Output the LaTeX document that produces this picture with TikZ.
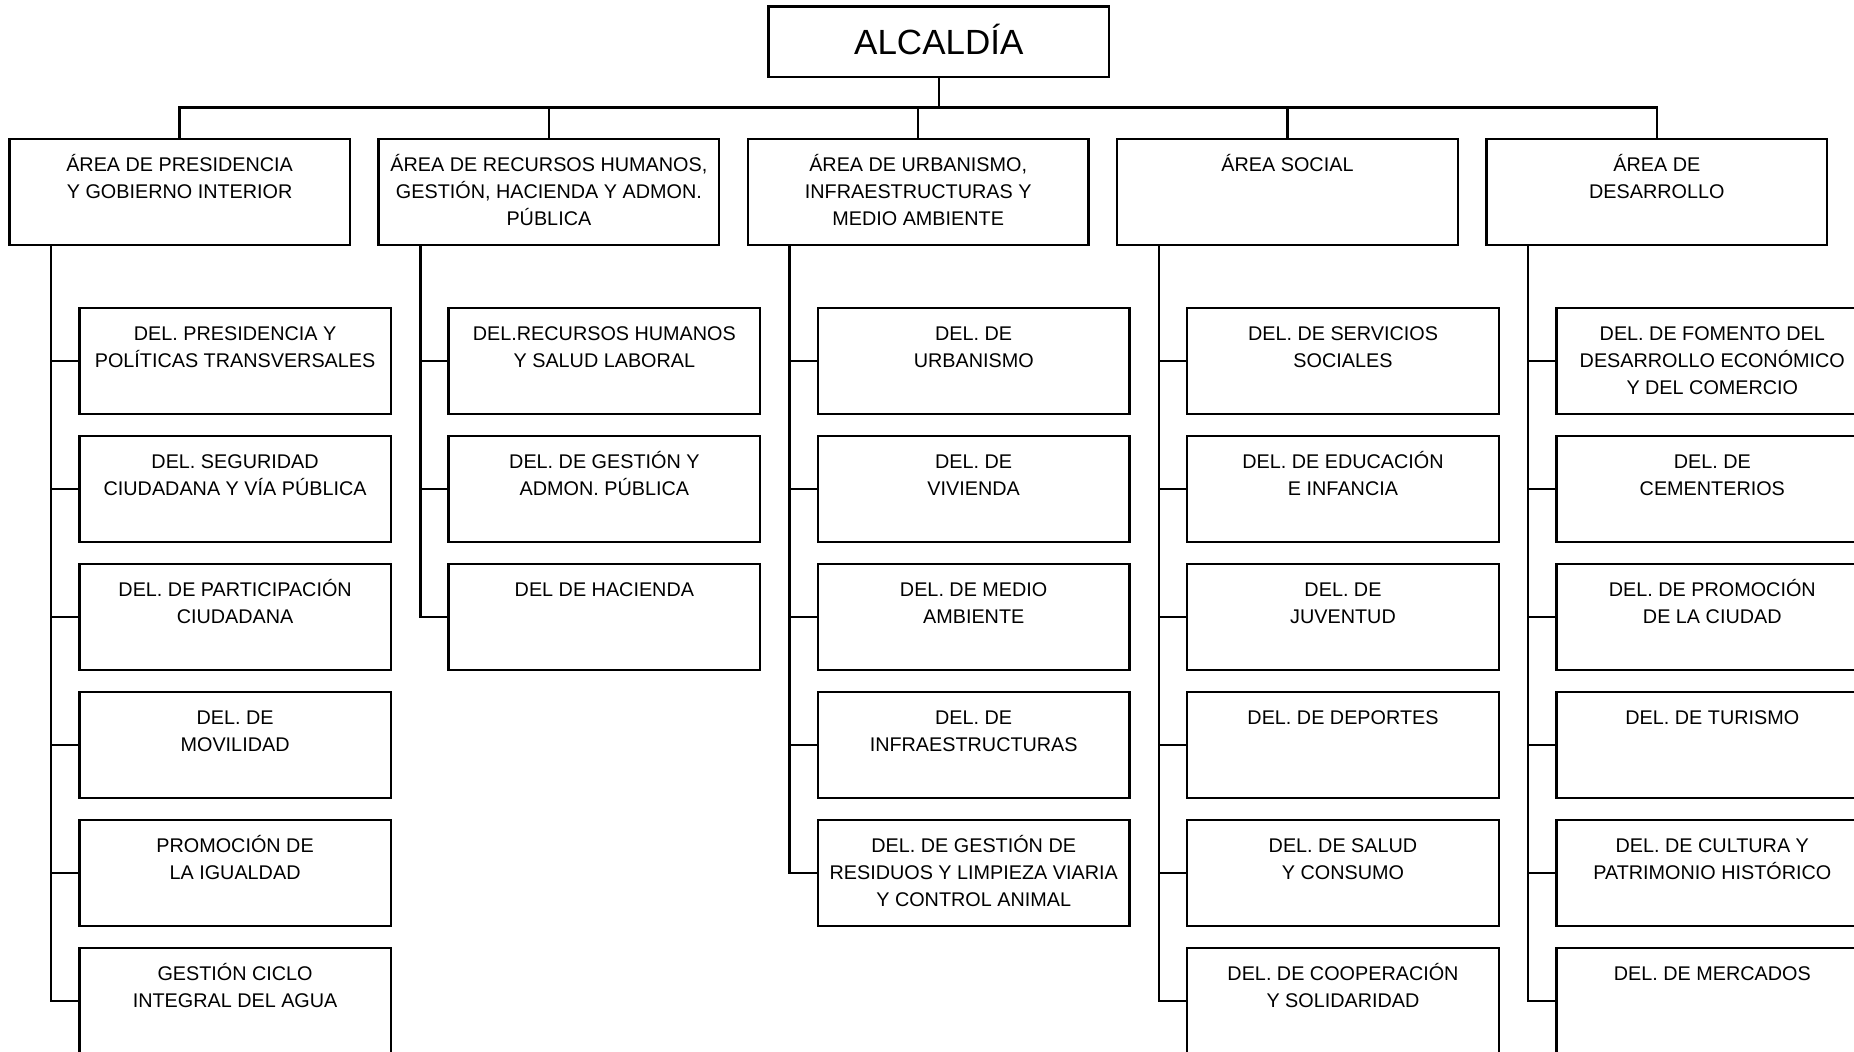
\documentclass[tikz,border=0pt]{standalone}
\usepackage{fontspec}
\setmainfont{Liberation Sans}
\usetikzlibrary{positioning}

\newcommand{\deltext}[1]{\parbox[c][52.85pt][t]{155.75pt}{\centering\rule{0pt}{16.3pt}#1}}
\newcommand{\areatext}[1]{\parbox[c][53pt][t]{170.25pt}{\centering\rule{0pt}{16.2pt}#1}}

\tikzset{
  link/.style={line width=1.2pt},
  boss/.style={draw, line width=1.2pt, minimum width=170.25pt, minimum height=35.3pt,
    inner sep=0pt, outer sep=0pt, text height=13pt, text depth=0pt, font=\fontsize{17.5pt}{21pt}\selectfont},
  area/.style={draw, line width=1.2pt, inner sep=0pt, outer sep=0pt, font=\fontsize{9.9pt}{13.5pt}\selectfont},
  del/.style={area},
}

\begin{document}
\begin{tikzpicture}[x=0.5pt, y=-0.5pt]
    \useasboundingbox (0,0) rectangle (1854,1052);
    \node[boss] (alc) at (938.8,42) {ALCALDÍA};
    \coordinate (bus) at (0,107.7);

    % areas
    \node[area] (a1) at (179.6,192.3) {\areatext{ÁREA DE PRESIDENCIA\\Y GOBIERNO INTERIOR}};
    \node[area, right=14.4pt of a1] (a2) {\areatext{ÁREA DE RECURSOS HUMANOS,\\GESTIÓN, HACIENDA Y ADMON.\\PÚBLICA}};
    \node[area, right=14.4pt of a2] (a3) {\areatext{ÁREA DE URBANISMO,\\INFRAESTRUCTURAS Y\\MEDIO AMBIENTE}};
    \node[area, right=14.4pt of a3] (a4) {\areatext{ÁREA SOCIAL}};
    \node[area, right=14.4pt of a4] (a5) {\areatext{ÁREA DE\\DESARROLLO}};

    \draw[link] (alc) -- (alc.south |- bus);
    \draw[link] (a1) -- (a1.north |- bus) -- (a5.north |- bus) -- (a5);
    \draw[link] (a2) -- (a2.north |- bus);
    \draw[link] (a3) -- (a3.north |- bus);
    \draw[link] (a4) -- (a4.north |- bus);

    % presidencia
    \node[del, below right=31.5pt and 35pt of a1.south west] (d11) {\deltext{DEL. PRESIDENCIA Y\\POLÍTICAS TRANSVERSALES}};
    \node[del, below=11.15pt of d11] (d12) {\deltext{DEL. SEGURIDAD\\CIUDADANA Y VÍA PÚBLICA}};
    \node[del, below=11.15pt of d12] (d13) {\deltext{DEL. DE PARTICIPACIÓN\\CIUDADANA}};
    \node[del, below=11.15pt of d13] (d14) {\deltext{DEL. DE\\MOVILIDAD}};
    \node[del, below=11.15pt of d14] (d15) {\deltext{PROMOCIÓN DE\\LA IGUALDAD}};
    \node[del, below=11.15pt of d15] (d16) {\deltext{GESTIÓN CICLO\\INTEGRAL DEL AGUA}};
    \coordinate (t1) at ([xshift=20.85pt]a1.south west);
    \draw[link] (t1) |- (d16);
    \draw[link] (d11) -- (d11 -| t1);
    \draw[link] (d12) -- (d12 -| t1);
    \draw[link] (d13) -- (d13 -| t1);
    \draw[link] (d14) -- (d14 -| t1);
    \draw[link] (d15) -- (d15 -| t1);

    % recursos humanos
    \node[del, below right=31.5pt and 35pt of a2.south west] (d21) {\deltext{DEL.RECURSOS HUMANOS\\Y SALUD LABORAL}};
    \node[del, below=11.15pt of d21] (d22) {\deltext{DEL. DE GESTIÓN Y\\ADMON. PÚBLICA}};
    \node[del, below=11.15pt of d22] (d23) {\deltext{DEL DE HACIENDA}};
    \coordinate (t2) at ([xshift=20.85pt]a2.south west);
    \draw[link] (t2) |- (d23);
    \draw[link] (d21) -- (d21 -| t2);
    \draw[link] (d22) -- (d22 -| t2);

    % urbanismo
    \node[del, below right=31.5pt and 35pt of a3.south west] (d31) {\deltext{DEL. DE\\URBANISMO}};
    \node[del, below=11.15pt of d31] (d32) {\deltext{DEL. DE\\VIVIENDA}};
    \node[del, below=11.15pt of d32] (d33) {\deltext{DEL. DE MEDIO\\AMBIENTE}};
    \node[del, below=11.15pt of d33] (d34) {\deltext{DEL. DE\\INFRAESTRUCTURAS}};
    \node[del, below=11.15pt of d34] (d35) {\deltext{DEL. DE GESTIÓN DE\\RESIDUOS Y LIMPIEZA VIARIA\\Y CONTROL ANIMAL}};
    \coordinate (t3) at ([xshift=20.85pt]a3.south west);
    \draw[link] (t3) |- (d35);
    \draw[link] (d31) -- (d31 -| t3);
    \draw[link] (d32) -- (d32 -| t3);
    \draw[link] (d33) -- (d33 -| t3);
    \draw[link] (d34) -- (d34 -| t3);

    % social
    \node[del, below right=31.5pt and 35pt of a4.south west] (d41) {\deltext{DEL. DE SERVICIOS\\SOCIALES}};
    \node[del, below=11.15pt of d41] (d42) {\deltext{DEL. DE EDUCACIÓN\\E INFANCIA}};
    \node[del, below=11.15pt of d42] (d43) {\deltext{DEL. DE\\JUVENTUD}};
    \node[del, below=11.15pt of d43] (d44) {\deltext{DEL. DE DEPORTES}};
    \node[del, below=11.15pt of d44] (d45) {\deltext{DEL. DE SALUD\\Y CONSUMO}};
    \node[del, below=11.15pt of d45] (d46) {\deltext{DEL. DE COOPERACIÓN\\Y SOLIDARIDAD}};
    \coordinate (t4) at ([xshift=20.85pt]a4.south west);
    \draw[link] (t4) |- (d46);
    \draw[link] (d41) -- (d41 -| t4);
    \draw[link] (d42) -- (d42 -| t4);
    \draw[link] (d43) -- (d43 -| t4);
    \draw[link] (d44) -- (d44 -| t4);
    \draw[link] (d45) -- (d45 -| t4);

    % desarrollo
    \node[del, below right=31.5pt and 35pt of a5.south west] (d51) {\deltext{DEL. DE FOMENTO DEL\\DESARROLLO ECONÓMICO\\Y DEL COMERCIO}};
    \node[del, below=11.15pt of d51] (d52) {\deltext{DEL. DE\\CEMENTERIOS}};
    \node[del, below=11.15pt of d52] (d53) {\deltext{DEL. DE PROMOCIÓN\\DE LA CIUDAD}};
    \node[del, below=11.15pt of d53] (d54) {\deltext{DEL. DE TURISMO}};
    \node[del, below=11.15pt of d54] (d55) {\deltext{DEL. DE CULTURA Y\\PATRIMONIO HISTÓRICO}};
    \node[del, below=11.15pt of d55] (d56) {\deltext{DEL. DE MERCADOS}};
    \coordinate (t5) at ([xshift=20.85pt]a5.south west);
    \draw[link] (t5) |- (d56);
    \draw[link] (d51) -- (d51 -| t5);
    \draw[link] (d52) -- (d52 -| t5);
    \draw[link] (d53) -- (d53 -| t5);
    \draw[link] (d54) -- (d54 -| t5);
    \draw[link] (d55) -- (d55 -| t5);
\end{tikzpicture}
\end{document}
